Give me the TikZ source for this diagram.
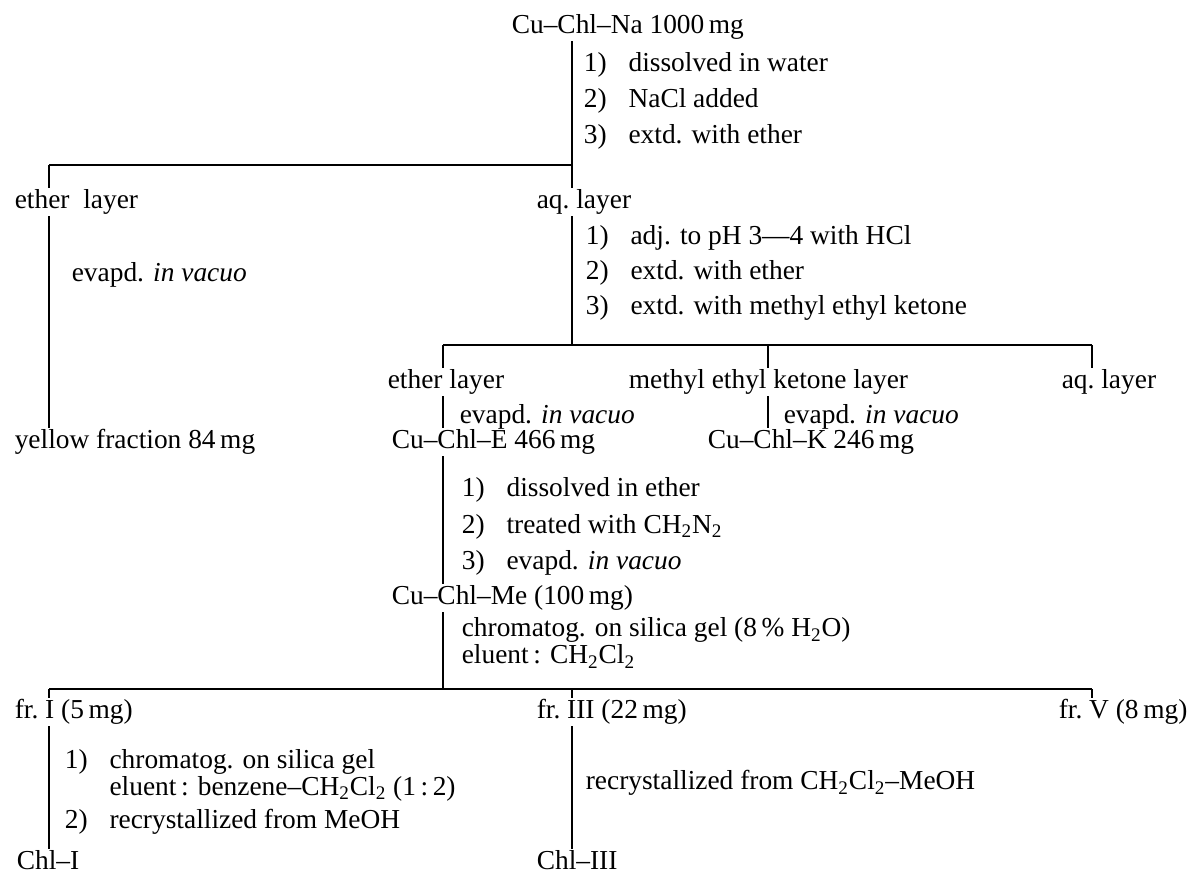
\documentclass[tikz,border=0pt]{standalone}
\usepackage{fontspec}
\setmainfont{Liberation Serif}
\tikzstyle{layer text}=[
    anchor = west,
    inner sep = 0.5pt,
    align = left,
    font = \fontsize{13.7}{12}\selectfont
]

\begin{document}
\begin{tikzpicture}[x=0.5pt, y=-0.5pt, line width=0.8pt, main/.style = {layer text}]
        \useasboundingbox (0,0) rectangle (1193,875);
        \coordinate (x0) at (49,0);
        \coordinate (x1) at (572,0);
        \coordinate (x2) at (443,0);
        \coordinate (x3) at (768,0);
        \coordinate (x4) at (1092,0);
        \coordinate (h1) at (0,165);
        \coordinate (h2) at (0,345);
        \coordinate (h3) at (0,689);

        \node[main] (na) at (510,27) {Cu--Chl--Na 1000\,mg};
        \node[main] (s1) at (582,65) {1)\hspace{0.8em}dissolved in water};
        \node[main] (s2) at (582,101) {2)\hspace{0.8em}NaCl added};
        \node[main] (s3) at (582,137) {3)\hspace{0.8em}extd. with ether};

        \node[main] (eth) at (13,202) {ether\enspace layer};
        \node[main] (aq) at (535,202) {aq.\ layer};
        \node[main] (ev1) at (70,275) {evapd. \textit{in vacuo}};
        \node[main] (yel) at (13,442) {yellow fraction 84\,mg};
        \node[main] (a1) at (584,238) {1)\hspace{0.8em}adj. to pH 3---4 with HCl};
        \node[main] (a2) at (584,273) {2)\hspace{0.8em}extd. with ether};
        \node[main] (a3) at (584,308) {3)\hspace{0.8em}extd. with methyl ethyl ketone};

        \node[main] (eth2) at (386,382) {ether layer};
        \node[main] (mek) at (627,382) {methyl ethyl ketone layer};
        \node[main] (aq2) at (1060,382) {aq.\ layer};
        \node[main] (ev2) at (458,417) {evapd. \textit{in vacuo}};
        \node[main] (ev3) at (782,417) {evapd. \textit{in vacuo}};
        \node[main] (cue) at (390,442) {Cu--Chl--E 466\,mg};
        \node[main] (cuk) at (706,442) {Cu--Chl--K 246\,mg};

        \node[main] (b1) at (460,490) {1)\hspace{0.8em}dissolved in ether};
        \node[main] (b2) at (460,527) {2)\hspace{0.8em}treated with CH\textsubscript{2}N\textsubscript{2}};
        \node[main] (b3) at (460,563) {3)\hspace{0.8em}evapd. \textit{in vacuo}};
        \node[main] (cume) at (390,598) {Cu--Chl--Me (100\,mg)};
        \node[main] (chr) at (460,643) {chromatog. on silica gel (8\,\% H\textsubscript{2}O)\\eluent\,: CH\textsubscript{2}Cl\textsubscript{2}};

        \node[main] (fr1) at (13,712) {fr.\ I (5\,mg)};
        \node[main] (fr3) at (535,712) {fr.\ III (22\,mg)};
        \node[main] (fr5) at (1057,712) {fr.\ V (8\,mg)};
        \node[main] (c1) at (63,775) {1)\hspace{0.8em}chromatog. on silica gel\\\phantom{1)\hspace{0.8em}}eluent\,: benzene--CH\textsubscript{2}Cl\textsubscript{2} (1\,:\,2)};
        \node[main] (c2) at (63,822) {2)\hspace{0.8em}recrystallized from MeOH};
        \node[main] (rc) at (584,783) {recrystallized from CH\textsubscript{2}Cl\textsubscript{2}--MeOH};
        \node[main] (chl1) at (15,860) {Chl--I};
        \node[main] (chl3) at (535,860) {Chl--III};

        \draw[-] (na.south -| x1) -- (aq.north -| x1);
        \draw[-] (h1 -| x0) -- (h1 -| x1);
        \draw[-] (h1 -| x0) -- (eth.north -| x0);
        \draw[-] (eth.south -| x0) -- (yel.north -| x0);
        \draw[-] (aq.south -| x1) -- (h2 -| x1);

        \draw[-] (h2 -| x2) -- (h2 -| x4);
        \draw[-] (h2 -| x2) -- (eth2.north -| x2);
        \draw[-] (h2 -| x3) -- (mek.north -| x3);
        \draw[-] (h2 -| x4) -- (aq2.north -| x4);
        \draw[-] (eth2.south -| x2) -- (cue.north -| x2);
        \draw[-] (mek.south -| x3) -- (cuk.north -| x3);

        \draw[-] (cue.south -| x2) -- (cume.north -| x2);
        \draw[-] (cume.south -| x2) -- (h3 -| x2);
        \draw[-] (h3 -| x0) -- (h3 -| x4);
        \draw[-] (h3 -| x0) -- (fr1.north -| x0);
        \draw[-] (h3 -| x1) -- (fr3.north -| x1);
        \draw[-] (h3 -| x4) -- (fr5.north -| x4);
        \draw[-] (fr1.south -| x0) -- (chl1.north -| x0);
        \draw[-] (fr3.south -| x1) -- (chl3.north -| x1);

    \end{tikzpicture}
\end{document}
